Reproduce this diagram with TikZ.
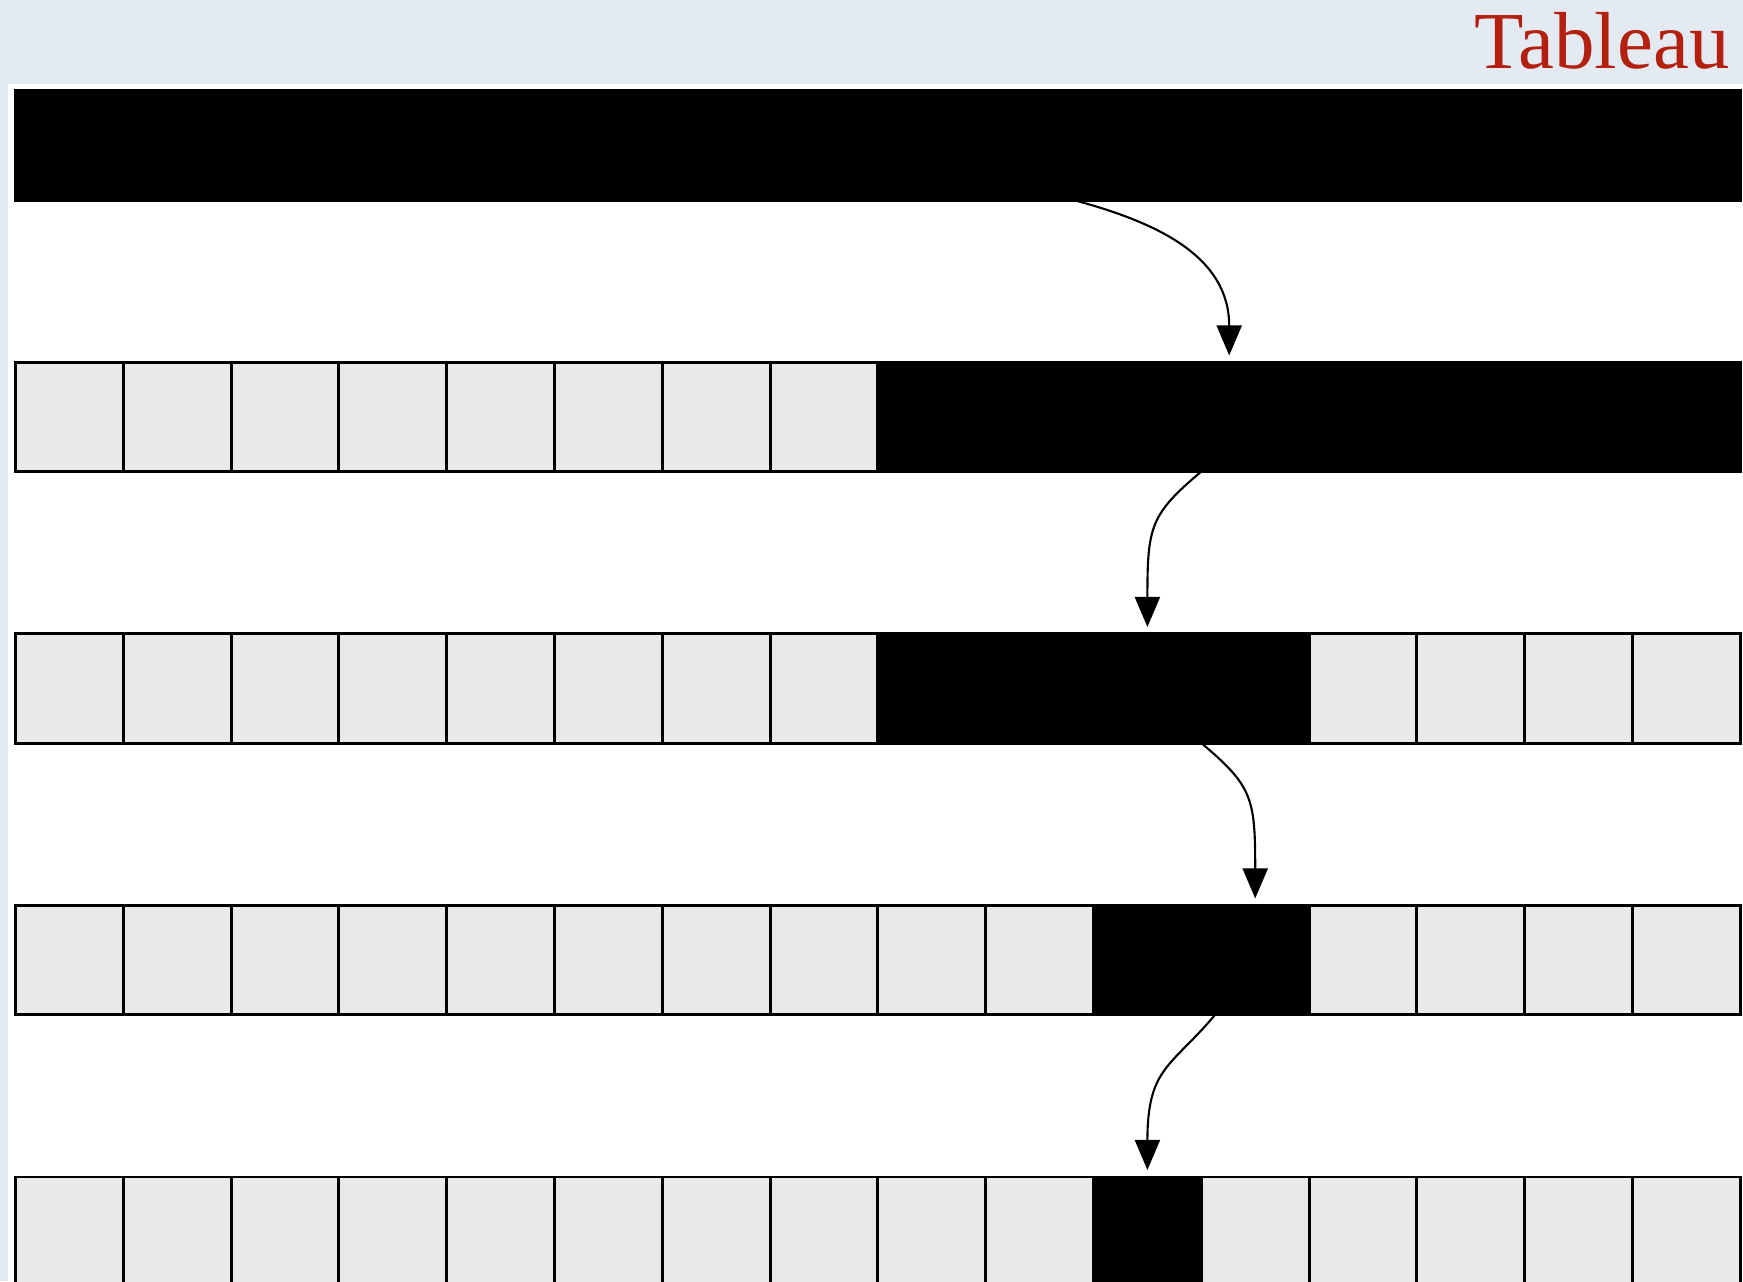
\documentclass[tikz,border=0pt]{standalone}
\usepackage{fontspec}
\usepackage{xcolor}
\usepackage{tikz}
\usetikzlibrary{arrows.meta,positioning}

\newfontfamily\titlefont{Liberation Serif}
\definecolor{paper}{HTML}{E3EAF2}
\definecolor{cellgrey}{HTML}{E9E9E9}
\definecolor{titlered}{HTML}{B3200F}

\begin{document}
\begin{tikzpicture}[x=0.01cm, y=-0.01cm,
  cell/.style={draw, rectangle, minimum width=1.078cm, minimum height=1.09cm,
               inner sep=0pt, outer sep=0pt, line width=0.85pt, fill=cellgrey},
  hot/.style={cell, fill=black},
  arr/.style={-{Triangle[length=0.3cm, width=0.25cm]}, line width=0.6pt,
              shorten >=0.07cm, in looseness=1.6},
  ttl/.style={font=\titlefont\fontsize{23}{27}\selectfont, text=titlered,
              anchor=base east, inner sep=0pt}
]
  \useasboundingbox (0,0) rectangle (1743,1281);
  \fill[paper] (0,0) rectangle (1743,1281);
  \fill[white] (8,84) rectangle (1743,1281);

  \node[ttl] (title) at (1730,68) {Tableau};

  % rows of cells, black run from \lo to \hi
  \foreach \r/\lo/\hi in {1/0/15, 2/8/15, 3/8/11, 4/10/11, 5/10/10}
    \foreach \c in {0,...,15} {
      \pgfmathtruncatemacro\isblack{and(\c>=\lo,\c<=\hi)}
      \ifnum\isblack=1 \def\kind{hot}\else\def\kind{cell}\fi
      \node[\kind] (r\r c\c) at ({69.4+107.8*\c},{145.5+271.5*(\r-1)}) {};
    }

  \draw[arr] ([xshift=0.34cm]r1c9.south) to[out=-15, in=90, in looseness=1.2] ([xshift=-0.26cm]r2c11.north);
  \draw[arr] (r2c11.south west) to[out=-140, in=90] (r3c10.north);
  \draw[arr] (r3c11.south west) to[out=-40, in=90] (r4c11.north);
  \draw[arr] ([xshift=0.14cm]r4c11.south west) to[out=-130, in=90] (r5c10.north);
\end{tikzpicture}
\end{document}
